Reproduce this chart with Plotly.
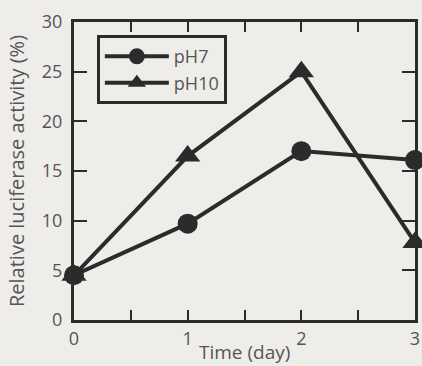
import plotly.graph_objects as go

days = [0, 1, 2, 3]
ph7 = [4.5, 9.7, 17.0, 16.1]
ph10 = [4.5, 16.5, 25.0, 7.8]
x_tick_labels = ["0", "1", "2", "3"]
y_tick_values = [0, 5, 10, 15, 20, 25, 30]

ink = "#2b2b2b"
text_col = "#555555"
bg = "#efedea"

fig = go.Figure()
fig.add_trace(go.Scatter(
    x=days, y=ph7, name="pH7", mode="lines+markers",
    line=dict(color=ink, width=4),
    marker=dict(symbol="circle", size=20, color=ink),
    cliponaxis=False,
))
fig.add_trace(go.Scatter(
    x=days, y=ph10, name="pH10", mode="lines+markers",
    line=dict(color=ink, width=4),
    marker=dict(symbol="triangle-up", size=22, color=ink),
    cliponaxis=False,
))

fig.update_layout(
    width=422, height=366,
    margin=dict(l=74, r=7, t=22, b=46),
    paper_bgcolor=bg, plot_bgcolor=bg,
    font=dict(family="Open Sans, sans-serif", color=text_col, size=17),
    showlegend=True,
    legend=dict(
        x=0.067, y=0.956, xanchor="left", yanchor="top",
        bgcolor=bg, bordercolor=ink, borderwidth=3,
        font=dict(size=18, color=text_col),
        tracegroupgap=0, itemwidth=64,
    ),
    annotations=[dict(
        text="Time (day)", xref="paper", yref="paper",
        x=0.5, y=-0.108, xanchor="center", yanchor="middle",
        showarrow=False, font=dict(size=19, color=text_col),
    )],
)
fig.update_xaxes(
    range=[0, 3], tickvals=days, ticktext=x_tick_labels,
    ticks="inside", ticklen=10, tickwidth=2, tickcolor=ink,
    minor=dict(dtick=0.5, ticks="inside", ticklen=10, tickwidth=2, tickcolor=ink),
    showline=True, linecolor=ink, linewidth=3, mirror="allticks",
    showgrid=False, zeroline=False, automargin=False,
    tickfont=dict(size=18),
)
fig.update_yaxes(
    range=[0, 30], tickvals=y_tick_values,
    ticks="inside", ticklen=13, tickwidth=2, tickcolor=ink,
    showline=True, linecolor=ink, linewidth=3, mirror="allticks",
    showgrid=False, zeroline=False, ticklabelstandoff=5, automargin=False,
    title=dict(text="Relative luciferase activity (%)", standoff=12, font=dict(size=20)),
    tickfont=dict(size=18),
)

fig.write_html("out.html")
